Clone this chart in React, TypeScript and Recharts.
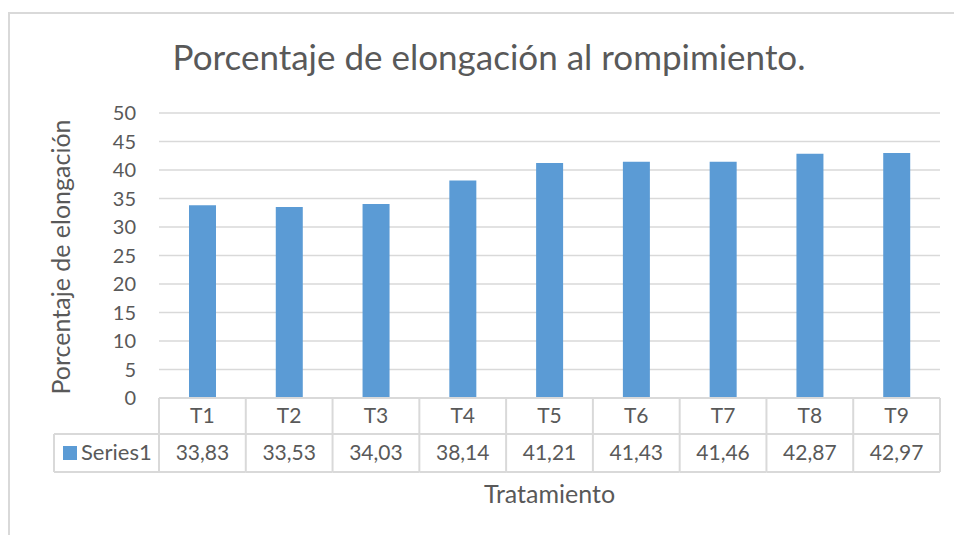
import React from "react";
import { BarChart, Bar, XAxis, YAxis, CartesianGrid } from "recharts";

const tratamientos = ["T1", "T2", "T3", "T4", "T5", "T6", "T7", "T8", "T9"];
const series1 = [33.83, 33.53, 34.03, 38.14, 41.21, 41.43, 41.46, 42.87, 42.97];
const yTicks = [0, 5, 10, 15, 20, 25, 30, 35, 40, 45, 50];

const data = tratamientos.map((t, i) => ({ t, v: series1[i] }));

const W = 954;
const H = 535;
const Y_AXIS_W = 105;
const ROW1 = 36;
const ROW2 = 38;
const X_AXIS_H = ROW1 + ROW2;
// plot area: x 159..940, y 113..398
const MARGIN = { top: 113, right: 14, left: 159 - Y_AXIS_W, bottom: H - 398 - X_AXIS_H };
const BAND = (940 - 159) / tratamientos.length;
const GRID = "#d9d9d9";
const TEXT = "#595959";
const BLUE = "#5b9bd5";
const FONT = "Lato, 'Open Sans', sans-serif";

const fmt = (v: number) => v.toFixed(2).replace(".", ",");

function TableTick({ x, y, payload }: any) {
  const i = payload.index;
  const left = x - BAND / 2;
  const right = x + BAND / 2;
  const bottom = y + ROW1 + ROW2;
  return (
    <g fontFamily={FONT} fill={TEXT}>
      <line x1={left} x2={left} y1={y} y2={bottom} stroke={GRID} strokeWidth={2} />
      {i === tratamientos.length - 1 && (
        <line x1={right} x2={right} y1={y} y2={bottom} stroke={GRID} strokeWidth={2} />
      )}
      <line x1={left} x2={right} y1={y + ROW1} y2={y + ROW1} stroke={GRID} strokeWidth={2} />
      <line x1={left} x2={right} y1={bottom} y2={bottom} stroke={GRID} strokeWidth={2} />
      <text x={x} y={y + ROW1 / 2 + 7} textAnchor="middle" fontSize={21} fill={TEXT}>
        {payload.value}
      </text>
      <text x={x} y={y + ROW1 + ROW2 / 2 + 7} textAnchor="middle" fontSize={21} fill={TEXT}>
        {fmt(series1[i])}
      </text>
      {i === 0 && (
        <g>
          <line x1={54} x2={left} y1={y + ROW1} y2={y + ROW1} stroke={GRID} strokeWidth={2} />
          <line x1={54} x2={left} y1={bottom} y2={bottom} stroke={GRID} strokeWidth={2} />
          <line x1={54} x2={54} y1={y + ROW1} y2={bottom} stroke={GRID} strokeWidth={2} />
          <rect x={63} y={y + ROW1 + 12} width={14} height={14} fill={BLUE} />
          <text x={81} y={y + ROW1 + ROW2 / 2 + 7} fontSize={22} fill={TEXT}>
            Series1
          </text>
        </g>
      )}
    </g>
  );
}

export default function App() {
  return (
    <div style={{ position: "absolute", left: 0, top: 0, width: W, height: H, background: "#fff" }}>
      <svg width={W} height={H} style={{ position: "absolute", left: 0, top: 0 }}>
        <rect x={9} y={13} width={W} height={H} fill="none" stroke={GRID} strokeWidth={2} />
      </svg>
      <div style={{ position: "absolute", left: 0, top: 0 }}>
        <BarChart width={W} height={H} data={data} margin={MARGIN}>
          <CartesianGrid vertical={false} stroke={GRID} strokeWidth={1.5} />
          <XAxis
            dataKey="t"
            height={X_AXIS_H}
            tickLine={false}
            tickSize={0}
            tickMargin={0}
            axisLine={{ stroke: GRID, strokeWidth: 2 }}
            tick={<TableTick />}
            interval={0}
          />
          <YAxis
            domain={[0, 50]}
            ticks={yTicks}
            width={Y_AXIS_W}
            interval={0}
            tickLine={false}
            axisLine={false}
            tickSize={0}
            tickMargin={23}
            tick={{ fill: TEXT, fontSize: 20, fontFamily: FONT }}
          />
          <Bar dataKey="v" fill={BLUE} barSize={27} isAnimationActive={false} />
        </BarChart>
      </div>
      <div
        style={{
          position: "absolute",
          left: 0,
          width: 978,
          top: 35,
          textAlign: "center",
          fontFamily: FONT,
          fontSize: 35,
          color: TEXT,
          whiteSpace: "nowrap",
        }}
      >
        Porcentaje de elongación al rompimiento.
      </div>
      <div
        style={{
          position: "absolute",
          left: 159,
          width: 781,
          top: 478,
          textAlign: "center",
          fontFamily: FONT,
          fontSize: 25,
          color: TEXT,
        }}
      >
        Tratamiento
      </div>
      <div
        style={{
          position: "absolute",
          left: 60,
          top: 257,
          transform: "translate(-50%, -50%) rotate(-90deg)",
          fontFamily: FONT,
          fontSize: 25,
          color: TEXT,
          whiteSpace: "nowrap",
        }}
      >
        Porcentaje de elongación
      </div>
    </div>
  );
}
